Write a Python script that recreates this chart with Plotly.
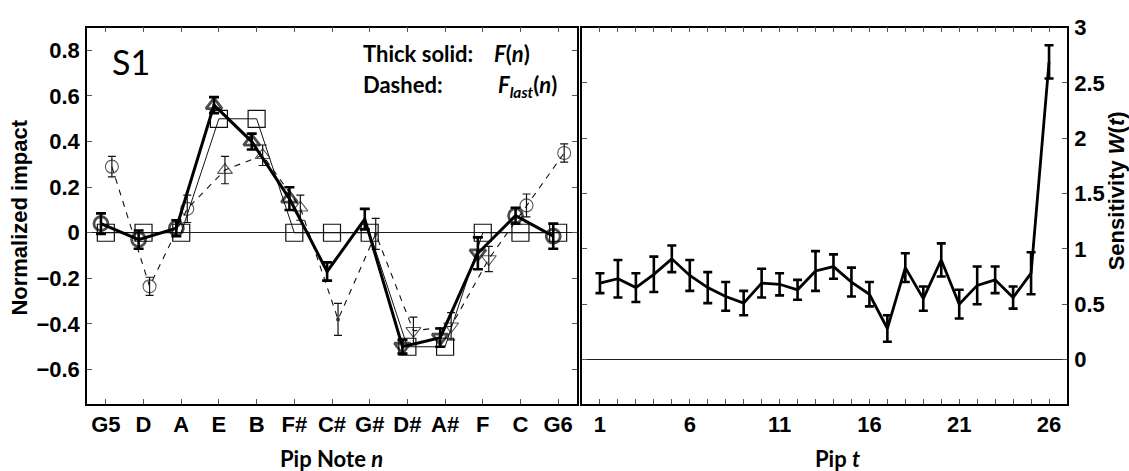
import plotly.graph_objects as go

# ---------------- data ----------------
notes = ["G5", "D", "A", "E", "B", "F#", "C#", "G#", "D#", "A#", "F", "C", "G6"]
note_kind = ["circle", "circle", "circle", "up", "up", "up", "dot", "dot",
             "down", "down", "down", "circle", "circle"]
template = [0, 0, 0, 0.5, 0.5, 0, 0, 0, -0.5, -0.5, 0, 0, 0]
F_vals = [0.04, -0.03, 0.02, 0.56, 0.40, 0.15, -0.17, 0.06, -0.50, -0.46, -0.09, 0.075, -0.015]
F_err = [0.045, 0.04, 0.035, 0.035, 0.035, 0.05, 0.04, 0.045, 0.03, 0.04, 0.07, 0.035, 0.055]
Flast_vals = [0.29, -0.235, 0.105, 0.275, 0.34, 0.11, -0.38, -0.005, -0.43, -0.41, -0.115, 0.12, 0.35]
Flast_err = [0.045, 0.04, 0.06, 0.06, 0.045, 0.055, 0.07, 0.068, 0.06, 0.06, 0.055, 0.05, 0.04]

pips = list(range(1, 27))
W_vals = [0.69, 0.73, 0.65, 0.77, 0.91, 0.76, 0.65, 0.57, 0.51, 0.69, 0.68, 0.63, 0.80,
          0.84, 0.70, 0.59, 0.28, 0.83, 0.55, 0.90, 0.50, 0.67, 0.72, 0.56, 0.78, 2.69]
W_err = [0.09, 0.17, 0.13, 0.16, 0.12, 0.14, 0.14, 0.13, 0.11, 0.13, 0.10, 0.09, 0.18,
         0.11, 0.13, 0.11, 0.12, 0.13, 0.11, 0.15, 0.13, 0.17, 0.12, 0.10, 0.19, 0.15]
pip_ticks = [1, 6, 11, 16, 21, 26]

# ---------------- styles ----------------
sym_map = {"circle": "circle-open", "up": "triangle-up-open",
           "down": "triangle-down-open", "dot": "circle"}
idx = list(range(1, len(notes) + 1))
symbols = [sym_map[k] for k in note_kind]
thick_sizes = [0 if k == "dot" else 14 for k in note_kind]
dash_sizes = [3 if k == "dot" else 13 for k in note_kind]

W_PX, H_PX = 1129, 471
def fx(px):
    return px / W_PX
def fy(px):
    return 1 - px / H_PX

TICK_FONT = dict(family="Liberation Sans, Arial", size=22, color="black", weight="bold")
LBL_FONT = dict(family="Lato", size=22, color="black")
TITLE_FONT = dict(family="Liberation Sans, Arial", size=22, color="black", weight="bold")

fig = go.Figure()

# template squares (thin solid)
fig.add_trace(go.Scatter(
    x=idx, y=template, mode="lines+markers",
    line=dict(color="#111", width=1),
    marker=dict(symbol="square-open", size=17, color="#111", line=dict(width=1.2, color="#111")),
    xaxis="x", yaxis="y", showlegend=False, cliponaxis=False))

# dashed F_last
fig.add_trace(go.Scatter(
    x=[i + 0.16 for i in idx], y=Flast_vals, mode="lines+markers",
    line=dict(color="#111", width=1.1, dash="6px,6px"),
    marker=dict(symbol=symbols, size=dash_sizes, color="#111", line=dict(width=1.1, color="#111")),
    error_y=dict(type="data", array=Flast_err, visible=True, thickness=1.2, width=4, color="#111"),
    xaxis="x", yaxis="y", showlegend=False))

# thick solid F
fig.add_trace(go.Scatter(
    x=[i - 0.13 for i in idx], y=F_vals, mode="lines+markers",
    line=dict(color="black", width=3),
    marker=dict(symbol=symbols, size=thick_sizes, color="black", line=dict(width=2.8, color="black")),
    error_y=dict(type="data", array=F_err, visible=True, thickness=2.6, width=5, color="black"),
    xaxis="x", yaxis="y", showlegend=False))

# right panel W(t)
fig.add_trace(go.Scatter(
    x=pips, y=W_vals, mode="lines",
    line=dict(color="black", width=2.8),
    error_y=dict(type="data", array=W_err, visible=True, thickness=2.6, width=4.5, color="black"),
    xaxis="x2", yaxis="y2", showlegend=False))

axis_common = dict(showline=True, linecolor="black", linewidth=1.5, mirror="ticks",
                   ticks="inside", ticklen=5, tickwidth=1, tickcolor="#555",
                   showgrid=False, tickfont=TICK_FONT)

fig.update_layout(
    width=W_PX, height=H_PX,
    margin=dict(l=0, r=0, t=0, b=0),
    paper_bgcolor="white", plot_bgcolor="white",
    xaxis=dict(domain=[fx(87), fx(577)], range=[0.5, 13.5], tickvals=idx, ticktext=notes,
               anchor="y", zeroline=False, **axis_common),
    yaxis=dict(domain=[fy(402), fy(16)], range=[-0.75, 0.9], tick0=0, dtick=0.2,
               anchor="x", zeroline=True, zerolinecolor="#222", zerolinewidth=1,
               ticklabelstandoff=1, **axis_common),
    xaxis2=dict(domain=[fx(582), fx(1067)], range=[0, 27], tickvals=pip_ticks,
                minor=dict(tick0=0, dtick=1, ticks="inside", ticklen=5, tickwidth=1,
                           tickcolor="#555", showgrid=False),
                anchor="y2", zeroline=False, **axis_common),
    yaxis2=dict(domain=[fy(402), fy(16)], range=[-0.4, 3.0], tick0=0, dtick=0.5,
                anchor="x2", side="right", zeroline=True, zerolinecolor="#222",
                zerolinewidth=1, ticklabelstandoff=1, **axis_common),
)

ann = [
    dict(text="S1", x=fx(110), y=fy(51), xanchor="left", yanchor="middle",
         font=dict(family="Lato", size=34, color="black")),
    dict(text="<b>Thick solid:</b>", x=fx(361), y=fy(43), xanchor="left", yanchor="middle", font=LBL_FONT),
    dict(text="<b><i>F</i>(<i>n</i>)</b>", x=fx(492), y=fy(43), xanchor="left", yanchor="middle", font=LBL_FONT),
    dict(text="<b>Dashed:</b>", x=fx(361), y=fy(74), xanchor="left", yanchor="middle", font=LBL_FONT),
    dict(text="<b><i>F<sub>last</sub></i>(<i>n</i>)</b>", x=fx(496), y=fy(76), xanchor="left",
         yanchor="middle", font=LBL_FONT),
    dict(text="<b>Pip Note <i>n</i></b>", x=fx(331), y=fy(458), xanchor="center", yanchor="middle", font=LBL_FONT),
    dict(text="<b>Pip <i>t</i></b>", x=fx(837), y=fy(458), xanchor="center", yanchor="middle", font=LBL_FONT),
    dict(text="<b>Normalized impact</b>", x=fx(20), y=fy(211), xanchor="center", yanchor="middle",
         textangle=-90, font=TITLE_FONT),
    dict(text="<b>Sensitivity <i>W</i>(<i>t</i>)</b>", x=fx(1116), y=fy(184), xanchor="center",
         yanchor="middle", textangle=-90, font=TITLE_FONT),
]
for a in ann:
    a.update(xref="paper", yref="paper", showarrow=False)
fig.update_layout(annotations=ann)

fig.write_html("out.html")
